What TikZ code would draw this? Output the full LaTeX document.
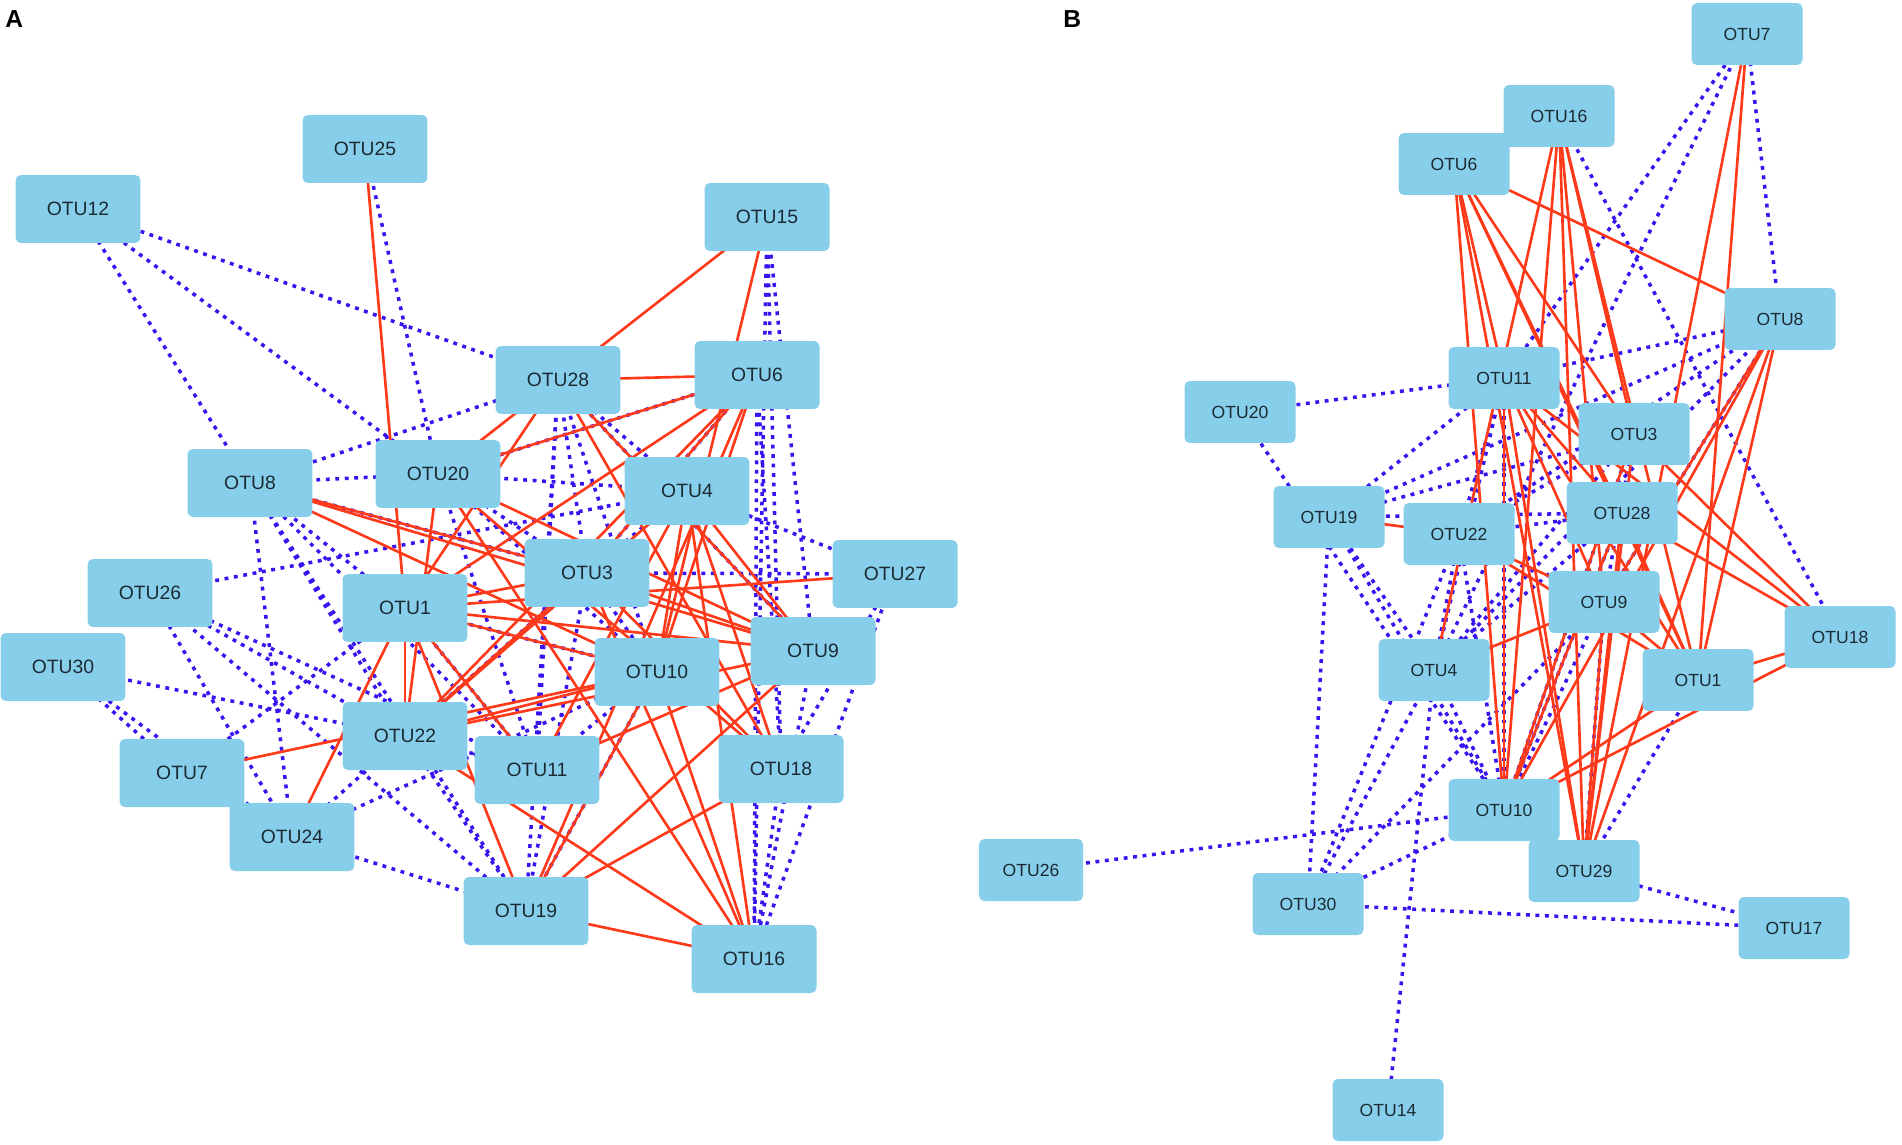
\documentclass[tikz,border=0pt]{standalone}
\usepackage{fontspec}
\setmainfont{Liberation Sans}
\usetikzlibrary{backgrounds}

\definecolor{otubox}{HTML}{87CEEB}
\definecolor{posedge}{HTML}{FF3A1A}
\definecolor{negedge}{HTML}{3A14F0}
\definecolor{otutext}{HTML}{1C2B33}

\begin{document}
\begin{tikzpicture}[x=0.02cm, y=-0.02cm,
    otu/.style={fill=otubox, rounded corners=3pt, minimum width=2.5cm, minimum height=1.36cm,
        text=otutext, font=\fontsize{11}{13}\selectfont},
    otub/.style={otu, minimum width=2.22cm, minimum height=1.24cm, font=\fontsize{10}{12}\selectfont},
    posline/.style={posedge, line width=1.5pt},
    negline/.style={negedge, line width=2pt, dash pattern=on 2.2pt off 3.2pt},
    panel/.style={anchor=north west, inner sep=0pt, font=\bfseries\fontsize{14}{14}\selectfont}]
    \useasboundingbox (0,0) rectangle (1902,1145);

    % panel A
    \node[panel] (labA) at (5,10) {A};
    \node[otu] (a25) at (365,149) {OTU25};
    \node[otu] (a12) at (78,209) {OTU12};
    \node[otu] (a15) at (767,217) {OTU15};
    \node[otu] (a28) at (558,380) {OTU28};
    \node[otu] (a6)  at (757,375) {OTU6};
    \node[otu] (a8)  at (250,483) {OTU8};
    \node[otu] (a20) at (438,474) {OTU20};
    \node[otu] (a4)  at (687,491) {OTU4};
    \node[otu] (a26) at (150,593) {OTU26};
    \node[otu] (a3)  at (587,573) {OTU3};
    \node[otu] (a27) at (895,574) {OTU27};
    \node[otu] (a1)  at (405,608) {OTU1};
    \node[otu] (a30) at (63,667) {OTU30};
    \node[otu] (a10) at (657,672) {OTU10};
    \node[otu] (a9)  at (813,651) {OTU9};
    \node[otu] (a22) at (405,736) {OTU22};
    \node[otu] (a7)  at (182,773) {OTU7};
    \node[otu] (a11) at (537,770) {OTU11};
    \node[otu] (a18) at (781,769) {OTU18};
    \node[otu] (a24) at (292,837) {OTU24};
    \node[otu] (a19) at (526,911) {OTU19};
    \node[otu] (a16) at (754,959) {OTU16};

    % panel B
    \node[panel] (labB) at (1063,10) {B};
    \node[otub] (b7)  at (1747,34) {OTU7};
    \node[otub] (b16) at (1559,116) {OTU16};
    \node[otub] (b6)  at (1454,164) {OTU6};
    \node[otub] (b8)  at (1780,319) {OTU8};
    \node[otub] (b11) at (1504,378) {OTU11};
    \node[otub] (b20) at (1240,412) {OTU20};
    \node[otub] (b3)  at (1634,434) {OTU3};
    \node[otub] (b19) at (1329,517) {OTU19};
    \node[otub] (b28) at (1622,513) {OTU28};
    \node[otub] (b22) at (1459,534) {OTU22};
    \node[otub] (b9)  at (1604,602) {OTU9};
    \node[otub] (b18) at (1840,637) {OTU18};
    \node[otub] (b4)  at (1434,670) {OTU4};
    \node[otub] (b1)  at (1698,680) {OTU1};
    \node[otub] (b10) at (1504,810) {OTU10};
    \node[otub] (b29) at (1584,871) {OTU29};
    \node[otub, minimum width=2.08cm] (b26) at (1031,870) {OTU26};
    \node[otub] (b30) at (1308,904) {OTU30};
    \node[otub] (b17) at (1794,928) {OTU17};
    \node[otub] (b14) at (1388,1110) {OTU14};

    \begin{pgfonlayer}{background}
    % negative correlations
    \foreach \u/\v in {a12/a8, a12/a20, a12/a28, a25/a20, a8/a28, a8/a20, a8/a3, a8/a22, a8/a11,
        a8/a24, a8/a19, a8/a1, a26/a4, a26/a22, a26/a24, a26/a11, a26/a19, a30/a22, a30/a7,
        a30/a24, a7/a24, a7/a1, a24/a22, a24/a19, a24/a10, a22/a19, a22/a11, a1/a11, a1/a10,
        a20/a3, a20/a10, a20/a11, a20/a4, a28/a3, a28/a10, a28/a4, a28/a11, a28/a19, a28/a9,
        a6/a3, a6/a16, a6/a18, a6/a20, a15/a9, a15/a18, a15/a16, a4/a27, a4/a3, a3/a10,
        a3/a22, a3/a19, a27/a18, a27/a16, a27/a3, a9/a16, a10/a19, a11/a10, a18/a16}
        \draw[negline] (\u.center) -- (\v.center);
    \foreach \u/\v in {b7/b11, b7/b4, b7/b8, b16/b18, b8/b11, b8/b22, b8/b9, b8/b19, b20/b11,
        b20/b10, b11/b19, b11/b4, b11/b10, b11/b22, b3/b19, b3/b4, b3/b10, b3/b22, b19/b4,
        b19/b30, b19/b10, b19/b28, b22/b4, b22/b10, b22/b28, b22/b30, b28/b4, b28/b10, b4/b30,
        b4/b10, b4/b14, b9/b10, b9/b29, b9/b30, b1/b29, b10/b26, b10/b30, b30/b17, b29/b17,
        b3/b9, b8/b4}
        \draw[negline] (\u.center) -- (\v.center);
    % positive correlations
    \foreach \u/\v in {a25/a1, a15/a28, a15/a10, a28/a6, a6/a20, a6/a1, a6/a22, a6/a10, a6/a3,
        a6/a19, a28/a1, a28/a9, a28/a20, a28/a18, a20/a9, a20/a18, a20/a16, a20/a22, a8/a3,
        a8/a10, a8/a9, a1/a3, a1/a27, a1/a9, a1/a10, a1/a22, a1/a19, a1/a11, a24/a1, a4/a10,
        a4/a9, a4/a18, a4/a16, a4/a11, a4/a22, a3/a9, a3/a16, a3/a18, a22/a10, a22/a3,
        a22/a16, a22/a9, a7/a10, a10/a19, a10/a16, a11/a9, a9/a19, a18/a19, a19/a16}
        \draw[posline] (\u.center) -- (\v.center);
    \foreach \u/\v in {b6/b8, b6/b11, b6/b10, b6/b29, b6/b3, b6/b1, b6/b28, b16/b4, b16/b10,
        b16/b3, b16/b9, b16/b1, b16/b29, b7/b1, b7/b29, b8/b9, b8/b29, b8/b10, b8/b1, b11/b10,
        b11/b29, b11/b9, b11/b1, b11/b18, b11/b28, b3/b10, b3/b29, b3/b18, b28/b18, b28/b1,
        b28/b29, b28/b10, b22/b9, b19/b22, b9/b4, b9/b1, b9/b29, b1/b18, b1/b10, b18/b10,
        b22/b1}
        \draw[posline] (\u.center) -- (\v.center);
    \end{pgfonlayer}
\end{tikzpicture}
\end{document}
